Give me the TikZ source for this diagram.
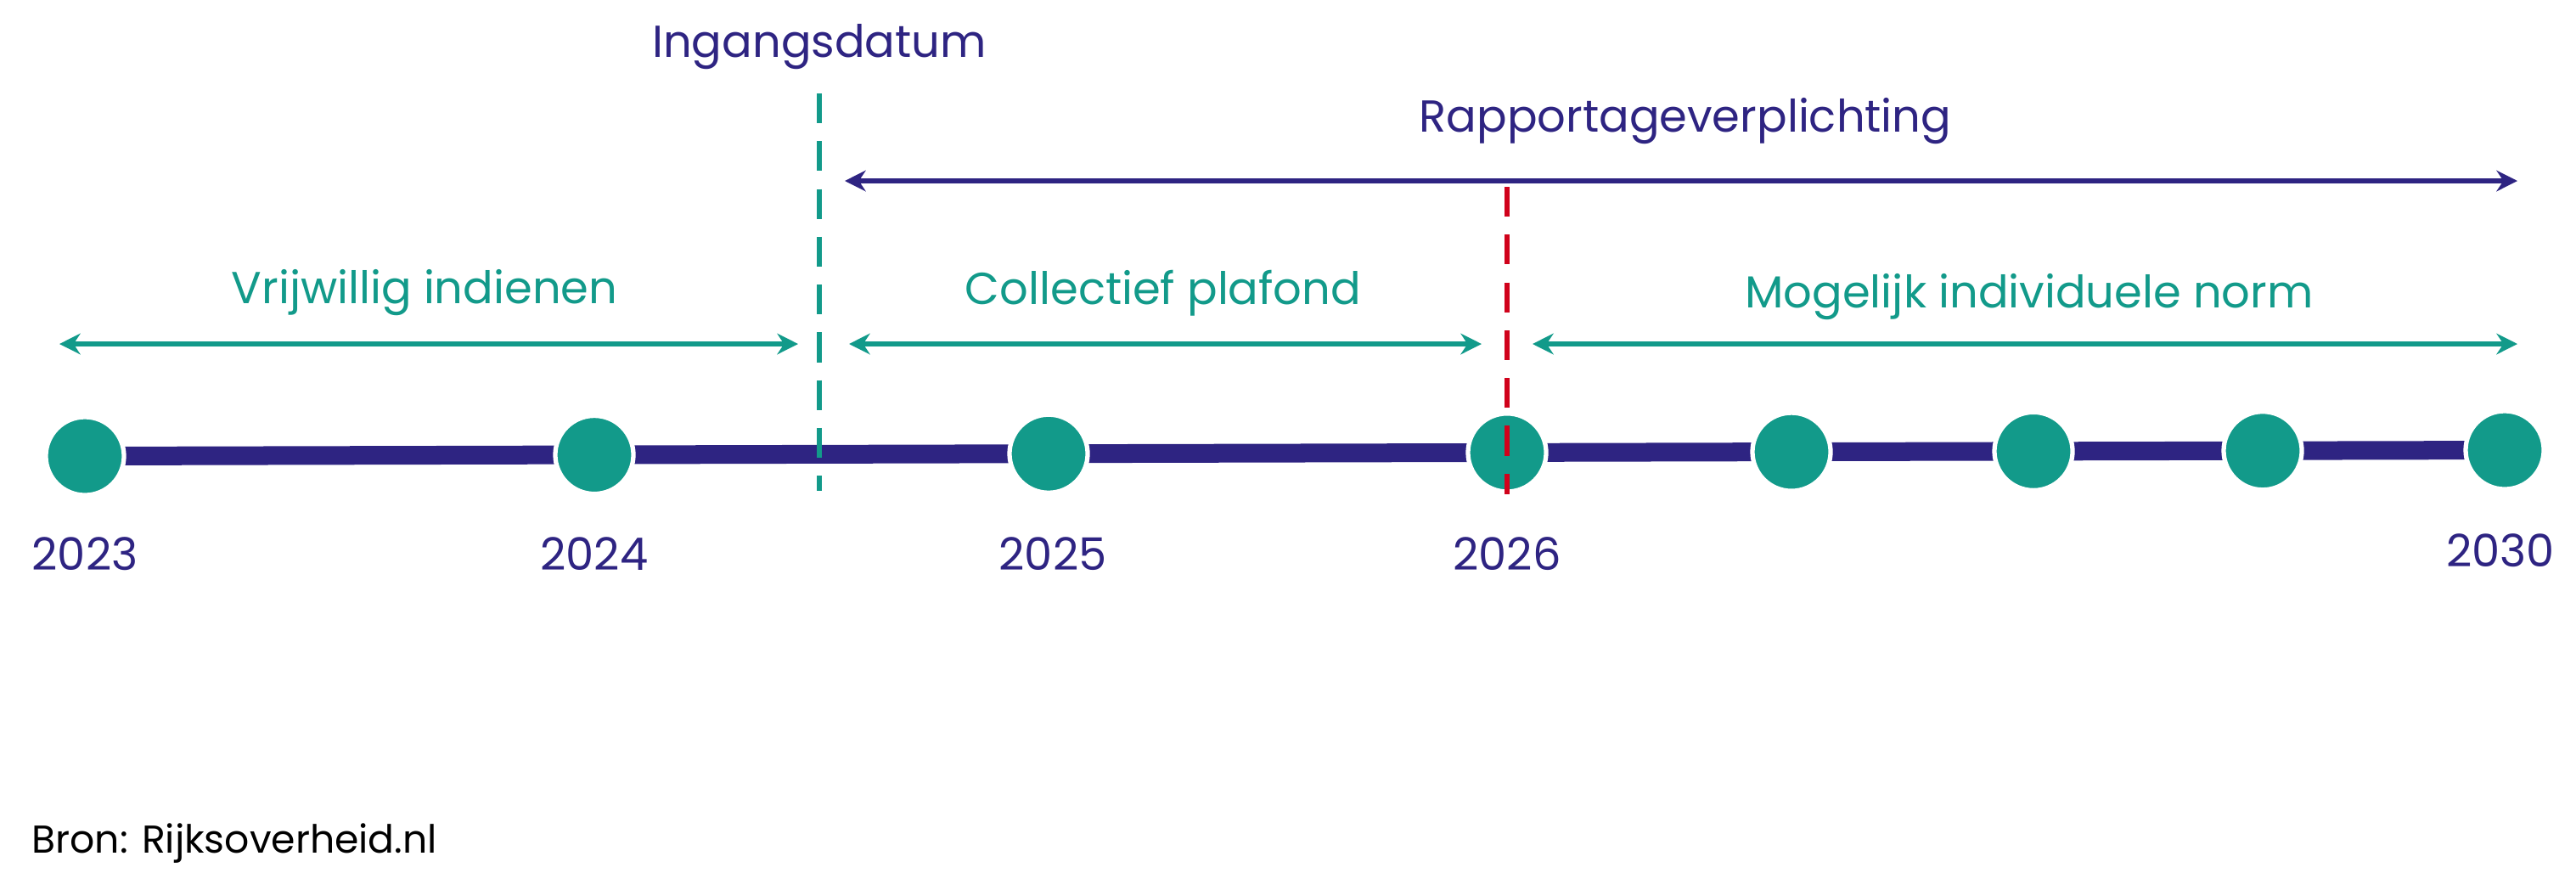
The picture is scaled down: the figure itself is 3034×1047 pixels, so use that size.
\documentclass[tikz,border=0pt]{standalone}
\usepackage{fontspec}
\setmainfont{Poppins}
\usetikzlibrary{arrows.meta}
\definecolor{teal}{HTML}{129A8A}
\definecolor{navy}{HTML}{2E2482}
\definecolor{rood}{HTML}{D0021B}
\tikzset{
  jaar/.style={circle,fill=teal,draw=white,line width=1.5pt,minimum size=0.92cm,inner sep=0pt},
  jaartal/.style={text=navy,font=\fontsize{15}{18}\selectfont},
  fase/.style={text=teal,font=\fontsize{15}{18}\selectfont},
  pijl/.style={{Stealth[length=7pt,width=7pt]}-{Stealth[length=7pt,width=7pt]},line width=1.6pt},
}
\begin{document}
\begin{tikzpicture}[x=0.01cm,y=-0.01cm]
        \useasboundingbox (0,0) rectangle (3034,1047);

        %%%%%%% Tijdlijn %%%%%%%
        \coordinate (links) at (100,537);
        \coordinate (rechts) at (2950,530);
        \draw[navy,line width=0.22cm] (links) -- (rechts);

        %%%%%%% Mijlpalen %%%%%%%
        \foreach \x/\n in {100/a,700/b,1235/c,1775/d,2110/e,2395/f,2665/g,2950/h}
            \node[jaar] (m\n) at (\x,{537-(\x-100)/2850*7}) {};

        %%%%%%% Jaartallen %%%%%%%
        \node[jaartal] (j2023) at (100,652) {2023};
        \node[jaartal] (j2024) at (700,652) {2024};
        \node[jaartal] (j2025) at (1240,652) {2025};
        \node[jaartal] (j2026) at (1775,652) {2026};
        \node[jaartal] (j2030) at (2945,648) {2030};

        %%%%%%% Stippellijnen %%%%%%%
        \coordinate (ingang boven) at (965,110);
        \coordinate (ingang onder) at (965,578);
        \draw[teal,line width=1.8pt,dash pattern=on 10pt off 6pt] (ingang boven) -- (ingang onder);
        \coordinate (rapport boven) at (1775,220);
        \coordinate (rapport onder) at (1775,582);
        \draw[rood,line width=1.8pt,dash pattern=on 10pt off 6pt] (rapport boven) -- (rapport onder);
        \node[text=navy,font=\fontsize{15}{18}\selectfont] (ingang) at (965,55) {Ingangsdatum};

        %%%%%%% Rapportage %%%%%%%
        \coordinate (r1) at (995,213);
        \coordinate (r2) at (2965,213);
        \draw[pijl,navy] (r1) -- (r2);
        \node[text=navy,font=\fontsize{15}{18}\selectfont] (rapport) at (1985,143) {Rapportageverplichting};

        %%%%%%% Fasen %%%%%%%
        \coordinate (v1) at (70,405);
        \coordinate (v2) at (940,405);
        \coordinate (c1) at (1000,405);
        \coordinate (c2) at (1745,405);
        \coordinate (n1) at (1805,405);
        \coordinate (n2) at (2965,405);
        \draw[pijl,teal] (v1) -- (v2);
        \draw[pijl,teal] (c1) -- (c2);
        \draw[pijl,teal] (n1) -- (n2);
        \node[fase] (vrijwillig) at (500,345) {Vrijwillig indienen};
        \node[fase] (collectief) at (1370,345) {Collectief plafond};
        \node[fase] (norm) at (2390,350) {Mogelijk individuele norm};

        %%%%%%% Bron %%%%%%%
        \node[anchor=west,font=\fontsize{13}{16}\selectfont] (bron) at (25,993) {Bron: Rijksoverheid.nl};
\end{tikzpicture}
\end{document}
